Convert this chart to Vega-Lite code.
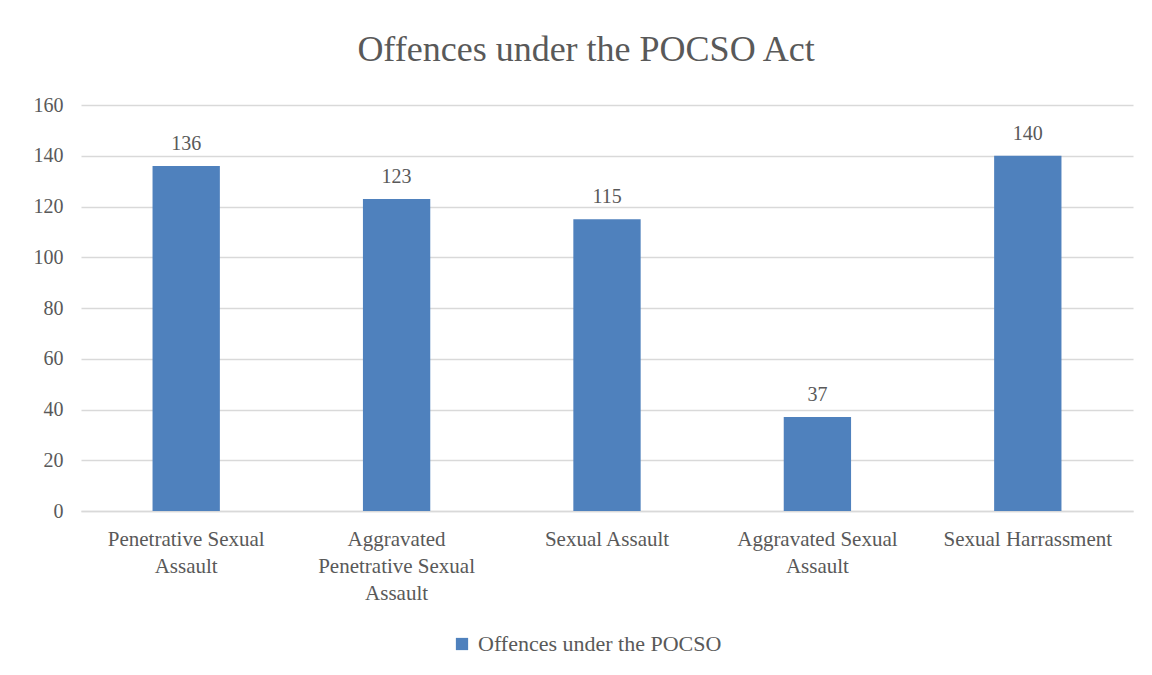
{
  "$schema": "https://vega.github.io/schema/vega-lite/v6.json",
  "width": 1052,
  "height": 406,
  "autosize": {"type": "none"},
  "padding": {"left": 81, "top": 105, "right": 19, "bottom": 164},
  "background": "white",
  "title": {
    "text": "Offences under the POCSO Act",
    "font": "Liberation Serif",
    "fontSize": 36,
    "fontWeight": "normal",
    "color": "#595959",
    "offset": 26,
    "dx": -21
  },
  "data": {
    "values": [
      {"offence": "Penetrative Sexual|Assault", "count": 136, "series": "Offences under the POCSO"},
      {"offence": "Aggravated|Penetrative Sexual|Assault", "count": 123, "series": "Offences under the POCSO"},
      {"offence": "Sexual Assault", "count": 115, "series": "Offences under the POCSO"},
      {"offence": "Aggravated Sexual|Assault", "count": 37, "series": "Offences under the POCSO"},
      {"offence": "Sexual Harrassment", "count": 140, "series": "Offences under the POCSO"}
    ]
  },
  "encoding": {
    "x": {
      "field": "offence",
      "type": "nominal",
      "sort": null,
      "scale": {"paddingInner": 0.68, "paddingOuter": 0.34},
      "axis": {
        "title": null,
        "labelAngle": 0,
        "labelExpr": "split(datum.label, '|')",
        "labelFont": "Liberation Serif",
        "labelFontSize": 21,
        "labelColor": "#595959",
        "labelLineHeight": 27,
        "labelPadding": 17,
        "labelLimit": 0,
        "ticks": false,
        "domainColor": "#d9d9d9",
        "domainWidth": 1.5,
        "labelBaseline": "top"
      }
    },
    "y": {
      "field": "count",
      "type": "quantitative",
      "scale": {"domain": [0, 160]},
      "axis": {
        "title": null,
        "values": [0, 20, 40, 60, 80, 100, 120, 140, 160],
        "labelFont": "Liberation Serif",
        "labelFontSize": 20,
        "labelColor": "#595959",
        "labelPadding": 18,
        "ticks": false,
        "domain": false,
        "gridColor": "#d9d9d9",
        "gridWidth": 1.5
      }
    }
  },
  "layer": [
    {
      "mark": {"type": "bar", "color": "#4f81bd"},
      "encoding": {
        "color": {
          "field": "series",
          "type": "nominal",
          "scale": {"range": ["#4f81bd"]},
          "legend": {
            "title": null,
            "orient": "none",
            "legendX": 370,
            "legendY": 528,
            "direction": "horizontal",
            "symbolType": "square",
            "symbolSize": 150,
            "symbolOpacity": 1,
            "labelFont": "Liberation Serif",
            "labelFontSize": 22,
            "labelColor": "#595959",
            "labelOffset": 5,
            "labelLimit": 0
          }
        }
      }
    },
    {
      "mark": {"type": "text", "baseline": "bottom", "dy": -12, "font": "Liberation Serif", "fontSize": 20, "color": "#595959"},
      "encoding": {"text": {"field": "count", "type": "quantitative"}}
    }
  ],
  "config": {"view": {"stroke": null}}
}
